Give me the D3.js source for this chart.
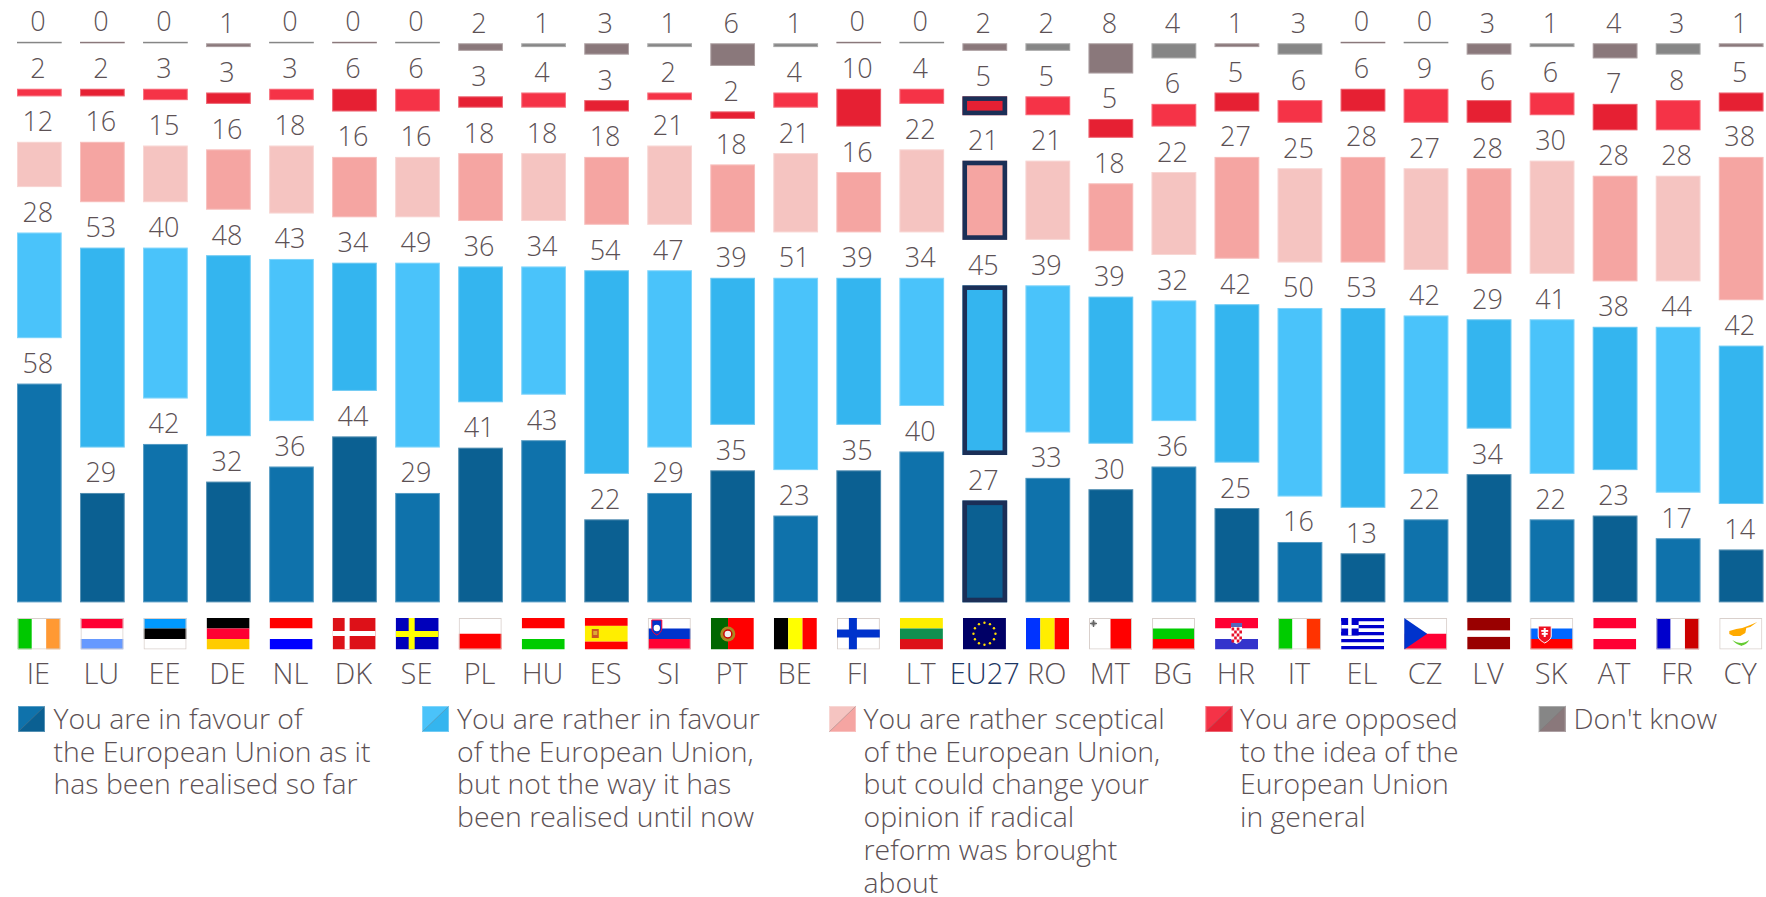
<!DOCTYPE html>
<html><head><meta charset="utf-8">
<script src="https://cdn.jsdelivr.net/npm/d3@7"></script>
<style>
html,body{margin:0;padding:0;background:#fff;overflow:hidden}
svg{display:block}
text{font-family:"Open Sans","Noto Sans",sans-serif;fill:#5c5155}
</style></head><body>
<script>
const countries=["IE","LU","EE","DE","NL","DK","SE","PL","HU","ES","SI","PT","BE","FI","LT","EU27","RO","MT","BG","HR","IT","EL","CZ","LV","SK","AT","FR","CY"];
const inFavour=[58,29,42,32,36,44,29,41,43,22,29,35,23,35,40,27,33,30,36,25,16,13,22,34,22,23,17,14];
const ratherInFavour=[28,53,40,48,43,34,49,36,34,54,47,39,51,39,34,45,39,39,32,42,50,53,42,29,41,38,44,42];
const ratherSceptical=[12,16,15,16,18,16,16,18,18,18,21,18,21,16,22,21,21,18,22,27,25,28,27,28,30,28,28,38];
const opposed=[2,2,3,3,3,6,6,3,4,3,2,2,4,10,4,5,5,5,6,5,6,6,9,6,6,7,8,5];
const dontKnow=[0,0,0,1,0,0,0,2,1,3,1,6,1,0,0,2,2,8,4,1,3,0,0,3,1,4,3,1];
const legendLabels=[
 ["You are in favour of","the European Union as it","has been realised so far"],
 ["You are rather in favour","of the European Union,","but not the way it has","been realised until now"],
 ["You are rather sceptical","of the European Union,","but could change your","opinion if radical","reform was brought","about"],
 ["You are opposed","to the idea of the","European Union","in general"],
 ["Don't know"]];

const seriesList=[inFavour,ratherInFavour,ratherSceptical,opposed,dontKnow];
const lightCols=["#0f72ab","#4ac3fa","#f5c4c1","#f53347","#868686"];
const darkCols=["#0b6092","#34b5ef","#f5a5a2","#e62033","#8a787b"];
const EU="EU27";
const W=1766,H=897,GAP=45.5,BASE=602.3;
const svg=d3.select("body").append("svg").attr("width",W).attr("height",H);
const x=d3.scaleBand().domain(countries).range([17,1763.5]).paddingInner(.291).paddingOuter(0);
const y=d3.scaleLinear().domain([0,100]).range([BASE,BASE-377]);
const NUM=27,LAB=29,LEG=28.4,WT=350;

countries.forEach((c,i)=>{
  let cum=0;
  const g=svg.append("g");
  seriesList.forEach((s,k)=>{
    const v=s[i];
    const y1=y(cum)-k*GAP, y0=y(cum+v)-k*GAP;
    const h=Math.max(y1-y0,1.5);
    const fill=(i%2?darkCols:lightCols)[k];
    const top=y1-h;
    g.append("rect").attr("x",x(c)).attr("y",top).attr("width",x.bandwidth()).attr("height",h)
      .attr("fill",fill);
    if(v>0&&h>2) g.append("rect").attr("x",x(c)+.5).attr("y",top+.5).attr("width",x.bandwidth()-1).attr("height",h-1)
      .attr("fill","none").attr("stroke","#fff").attr("stroke-opacity",.3);
    if(c===EU&&v>=5){
      const sw=4.6;
      g.append("rect").attr("x",x(c)+sw/2).attr("y",top+sw/2).attr("width",x.bandwidth()-sw).attr("height",h-sw)
       .attr("fill","none").attr("stroke","#1b2f57").attr("stroke-width",sw);
    }
    g.append("text").attr("x",x(c)+x.bandwidth()/2-1.5).attr("y",top-10.5)
      .attr("text-anchor","middle").attr("font-size",NUM).attr("font-weight",WT).text(v);
    cum+=v;
  });
  svg.append("text").attr("x",x(c)+x.bandwidth()/2-(c===EU?0:1)).attr("y",684).attr("text-anchor","middle")
    .attr("font-size",LAB).attr("font-weight",WT).style("fill",c===EU?"#1c3664":null).text(c);
  const f=svg.append("svg").attr("x",x(c)+.5).attr("y",618).attr("width",43).attr("height",31.5).attr("viewBox","0 0 43 31.5");
  drawFlag(f,c);
});

function R(f,x,y,w,h,c){f.append("rect").attr("x",x).attr("y",y).attr("width",w).attr("height",h).attr("fill",c);}
function hs(f,cols,ws){const t=d3.sum(ws||cols.map(()=>1));let p=0;cols.forEach((c,i)=>{const h=(ws?ws[i]:1)/t*31.5;R(f,0,p,43,h,c);p+=h;});}
function vs(f,cols,ws){const t=d3.sum(ws||cols.map(()=>1));let p=0;cols.forEach((c,i)=>{const w=(ws?ws[i]:1)/t*43;R(f,p,0,w,31.5,c);p+=w;});}
function edge(f){f.append("rect").attr("x",.5).attr("y",.5).attr("width",42).attr("height",30.5).attr("fill","none").attr("stroke","#d9d0cc").attr("stroke-width",1);}
function drawFlag(f,c){
  const T={
   IE:()=>{vs(f,["#00c800","#fff","#ff9933"]);edge(f);},
   LU:()=>{hs(f,["#ff0033","#fff","#6699ff"]);edge(f);},
   EE:()=>{hs(f,["#0099ff","#000","#fff"]);edge(f);},
   DE:()=>hs(f,["#000","#ff0033","#ffcc00"]),
   NL:()=>hs(f,["#ff0000","#fff","#0000ff"]),
   DK:()=>{R(f,0,0,43,31.5,"#dd1118");R(f,12,0,5,31.5,"#fff");R(f,0,13,43,5,"#fff");},
   SE:()=>{R(f,0,0,43,31.5,"#0000bb");R(f,13,0,6,31.5,"#ffff00");R(f,0,13,43,6,"#ffff00");},
   PL:()=>{hs(f,["#fff","#ff0000"]);edge(f);},
   HU:()=>hs(f,["#ff0000","#fff","#00cc00"]),
   ES:()=>{hs(f,["#ff0000","#ffee00","#ff0000"],[1,2,1]);R(f,7,11,7,9,"#cc5522");R(f,8.5,13,4,4,"#ddaa33");},
   SI:()=>{hs(f,["#fff","#0033cc","#ff0033"]);edge(f);f.append("path").attr("d","M4 2h10v8c0 4-3 6-5 7-2-1-5-3-5-7z").attr("fill","#0033cc").attr("stroke","#ff0033").attr("stroke-width",1);f.append("circle").attr("cx",9).attr("cy",10).attr("r",3.2).attr("fill","#fff");},
   PT:()=>{vs(f,["#006600","#ff0000"],[2,3]);f.append("circle").attr("cx",17).attr("cy",16).attr("r",7.5).attr("fill","#aa8822");f.append("circle").attr("cx",17).attr("cy",16).attr("r",4).attr("fill","#eee").attr("stroke","#cc0000").attr("stroke-width",1.5);},
   BE:()=>vs(f,["#000","#ffff00","#ff0000"]),
   FI:()=>{R(f,0,0,43,31.5,"#fff");edge(f);R(f,12,0,8,31.5,"#0033cc");R(f,0,11.5,43,8,"#0033cc");},
   LT:()=>hs(f,["#ffee00","#109050","#dd1118"]),
   EU27:()=>{R(f,0,0,43,31.5,"#000066");d3.range(12).forEach(k=>{const a=k*Math.PI/6;f.append("circle").attr("cx",21.5+11*Math.sin(a)).attr("cy",15.7-11*Math.cos(a)).attr("r",1.2).attr("fill","#ffdd00");});},
   RO:()=>vs(f,["#0033ff","#ffee00","#ff0000"]),
   MT:()=>{vs(f,["#fff","#ff0000"]);edge(f);R(f,2.5,3.5,4,4,"#999");R(f,3.8,2,1.4,7,"#666");R(f,1,4.800,7,1.400,"#666");},
   BG:()=>{hs(f,["#fff","#00cc00","#ff0000"]);edge(f);},
   HR:()=>{hs(f,["#ff0033","#fff","#3333cc"]);R(f,16,5,11,4,"#5566bb");f.append("path").attr("d","M16 9h11v11c0 3-3 5-5.5 6-2.500-1-5.500-3-5.500-6z").attr("fill","#fff");d3.range(5).forEach(r=>d3.range(4).forEach(q=>{if((r+q)%2===0)R(f,16.5+q*2.600,9.500+r*3,2.600,3,"#e8102a");}));},
   IT:()=>{vs(f,["#00cc00","#fff","#ff3300"]);edge(f);},
   EL:()=>{d3.range(9).forEach(k=>R(f,0,k*3.5,43,3.5,k%2?"#fff":"#0000cc"));R(f,0,0,17.5,17.500,"#0000cc");R(f,7,0,3.500,17.500,"#fff");R(f,0,7,17.500,3.500,"#fff");},
   CZ:()=>{hs(f,["#fff","#ff0033"]);edge(f);f.append("path").attr("d","M0 0L23 15.750L0 31.500z").attr("fill","#0033cc");},
   LV:()=>hs(f,["#990000","#fff","#990000"],[2,1,2]),
   SK:()=>{hs(f,["#fff","#0066ff","#ff0000"]);edge(f);f.append("path").attr("d","M8 8h13v10c0 3-3 5-6.500 7-3.500-2-6.500-4-6.500-7z").attr("fill","#ee1122").attr("stroke","#fff");R(f,13.500,10,2,9,"#fff");R(f,11,12,7,1.800,"#fff");R(f,11.500,15,6,1.800,"#fff");},
   AT:()=>hs(f,["#ff0033","#fff","#ff0033"]),
   FR:()=>{vs(f,["#0000cc","#fff","#cc0000"]);edge(f);},
   CY:()=>{R(f,0,0,43,31.5,"#fff");edge(f);f.append("path").attr("d","M10 13l7-2 6-1 8-3 7-3-7 5-4 1-1 5-5 3-7 0-4-2z").attr("fill","#ffaa00");f.append("path").attr("d","M13 22c3 4 8 5 9 6 2-1 6-2 8-6-3 2-6 3-8 3-3 0-6-1-9-3z").attr("fill","#66cc33");}
  };
  T[c]();
}

const legX=[18,422,829,1205.400,1538.700],txtX=[53.500,457,863.500,1240,1573.500];
legendLabels.forEach((lines,k)=>{
  const g=svg.append("g").attr("transform",`translate(${legX[k]},706)`);
  g.append("rect").attr("width",27).attr("height",26).attr("fill",lightCols[k]);
  g.append("path").attr("d","M27 0L27 26L0 26z").attr("fill",darkCols[k]);
  g.append("path").attr("d","M27 0L0 26").attr("stroke","#777").attr("stroke-opacity",.5).attr("stroke-width",.8);
  g.append("rect").attr("x",.5).attr("y",.5).attr("width",26).attr("height",25).attr("fill","none").attr("stroke","#fff").attr("stroke-opacity",.3);
  lines.forEach((l,j)=>svg.append("text").attr("x",txtX[k]).attr("y",729+j*32.7).attr("font-size",LEG).attr("font-weight",WT).text(l));
});
</script></body></html>
